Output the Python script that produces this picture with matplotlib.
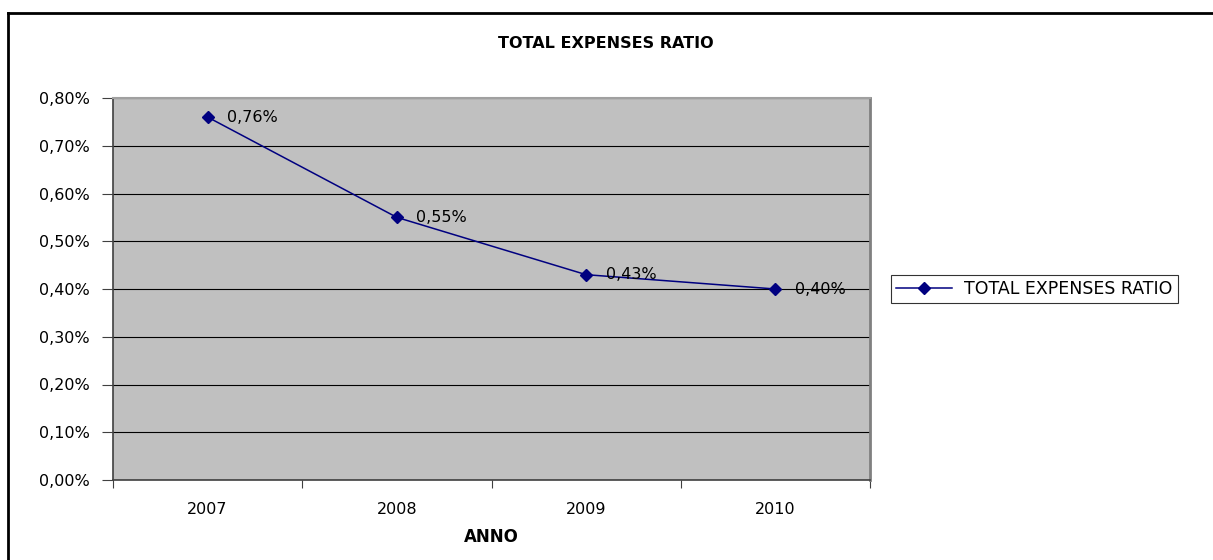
import matplotlib
matplotlib.use("Agg")
import matplotlib.pyplot as plt
from matplotlib.lines import Line2D
from matplotlib.ticker import FixedLocator, FuncFormatter

years = ["2007", "2008", "2009", "2010"]
ratio = [0.76, 0.55, 0.43, 0.40]
labels = ["0,76%", "0,55%", "0,43%", "0,40%"]
yticks = [0.0, 0.1, 0.2, 0.3, 0.4, 0.5, 0.6, 0.7, 0.8]
series_name = "TOTAL EXPENSES RATIO"
title = "TOTAL EXPENSES RATIO"
xlabel = "ANNO"

plt.rcParams['font.family'] = ['DejaVu Sans']

fig = plt.figure(figsize=(12.13, 5.6), dpi=100)
ax = fig.add_axes([113/1213, 1-480/560, (870-113)/1213, (480-98)/560])
ax.set_facecolor('#C0C0C0')

x = list(range(len(years)))
line, = ax.plot(x, ratio, color='#000080', lw=1.1, marker='D', ms=6,
                markerfacecolor='#000080', markeredgecolor='#000080',
                label=series_name, zorder=3)
for xi, yi, lab in zip(x, ratio, labels):
    ax.annotate(lab, (xi, yi), xytext=(14, 0), textcoords='offset points',
                ha='left', va='center', fontsize=11.5, color='black', zorder=4)

ax.set_xlim(-0.5, len(years) - 0.5)
ax.set_ylim(0, 0.8)
ax.set_yticks(yticks)
ax.yaxis.set_major_formatter(FuncFormatter(lambda v, p: f"{v:.2f}%".replace('.', ',')))
ax.yaxis.grid(True, color='black', lw=0.8)
ax.set_axisbelow(True)

ax.xaxis.set_major_locator(FixedLocator([i - 0.5 for i in range(len(years) + 1)]))
ax.xaxis.set_major_formatter(FuncFormatter(lambda v, p: ""))
ax.xaxis.set_minor_locator(FixedLocator(x))
ax.set_xticklabels(years, minor=True)
ax.tick_params(axis='x', which='major', length=6, width=0.8, color='#404040', direction='out')
ax.tick_params(axis='x', which='minor', length=0, pad=16, labelsize=11.5)
ax.tick_params(axis='y', length=8, width=0.8, color='#404040', direction='out', pad=9, labelsize=11.5)

ax.spines['left'].set_color('#404040')
ax.spines['left'].set_linewidth(1.2)
ax.spines['bottom'].set_color('#404040')
ax.spines['bottom'].set_linewidth(1.2)
ax.spines['top'].set_color('#A0A0A0')
ax.spines['top'].set_linewidth(1.5)
ax.spines['right'].set_color('#808080')
ax.spines['right'].set_linewidth(2)

fig.text(606/1213, 1-43/560, title, ha='center', va='center', fontsize=11.5, fontweight='bold')
fig.text(491/1213, 1-537/560, xlabel, ha='center', va='center', fontsize=12, fontweight='bold')

leg = fig.legend(handles=[line], loc='center left', bbox_to_anchor=(891/1213, 1-289/560),
                 frameon=True, fancybox=False, edgecolor='black', fontsize=12.5,
                 handlelength=3.2, borderpad=0.3, handletextpad=0.7, borderaxespad=0)
leg.get_frame().set_linewidth(0.8)

fig.add_artist(Line2D([8/1213, 8/1213], [0, 1-13/560], color='black', lw=2, transform=fig.transFigure))
fig.add_artist(Line2D([8/1213, 1], [1-13/560, 1-13/560], color='black', lw=2, transform=fig.transFigure))

fig.savefig('out.png', dpi=100)
